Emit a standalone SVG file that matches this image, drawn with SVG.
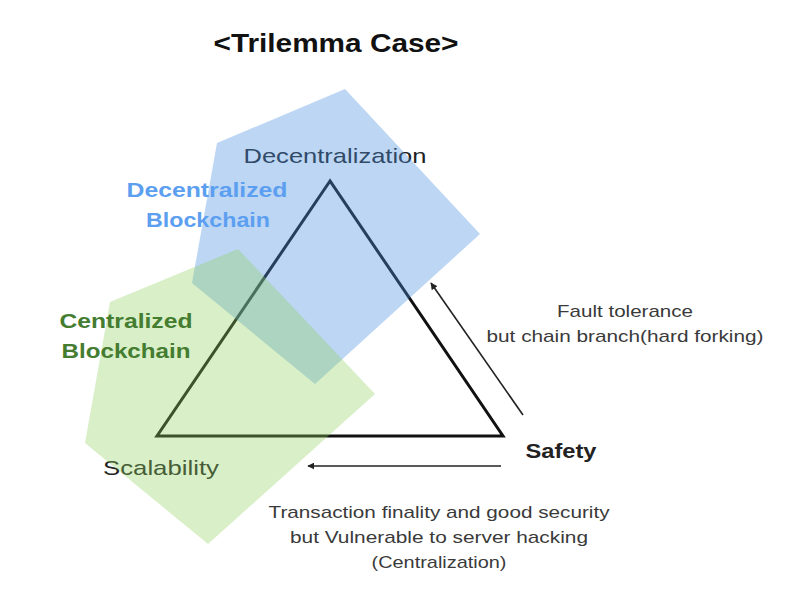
<svg xmlns="http://www.w3.org/2000/svg" width="804" height="602" viewBox="0 0 804 602">
<defs>
<style>
text{font-family:"Liberation Sans",Arial,Helvetica,sans-serif;}
.title{font-size:25px;font-weight:bold;fill:#111;}
.axis{font-size:21px;fill:#222;}
.region{font-size:21px;font-weight:bold;}
.note{font-size:17px;fill:#3a3a3a;}
.conn{stroke:#222;stroke-width:1.6;fill:none;marker-end:url(#ah);}
</style>
<marker id="ah" viewBox="0 0 10 10" refX="9" refY="5" markerWidth="7" markerHeight="7" orient="auto" markerUnits="userSpaceOnUse">
<path d="M0,0 L10,5 L0,10 z" fill="#222"/>
</marker>
</defs>
<rect width="804" height="602" fill="#fff"/>
<text class="title" x="336" y="52" text-anchor="middle" textLength="245" lengthAdjust="spacingAndGlyphs">&lt;Trilemma Case&gt;</text>

<g id="triangle">
<polygon points="330,181 157,436 503,436" fill="none" stroke="#111" stroke-width="3" stroke-linejoin="miter"/>
</g>
<g id="decentralization"><text class="axis" x="335" y="163" text-anchor="middle" textLength="183" lengthAdjust="spacingAndGlyphs">Decentralization</text></g>
<g id="scalability"><text class="axis" x="161" y="475" text-anchor="middle" textLength="116" lengthAdjust="spacingAndGlyphs">Scalability</text></g>
<g id="safety"><text class="axis" x="561" y="458" text-anchor="middle" font-weight="bold" textLength="71" lengthAdjust="spacingAndGlyphs">Safety</text></g>

<g id="decentralized-blockchain">
<polygon points="345,89 480,234 315,384 192,283 217,143" fill="#4a90e2" fill-opacity="0.37"/>
<text class="region" fill="#5c9ff0" x="207" y="197" text-anchor="middle" textLength="161" lengthAdjust="spacingAndGlyphs">Decentralized</text>
<text class="region" fill="#5c9ff0" x="208" y="227" text-anchor="middle" textLength="124" lengthAdjust="spacingAndGlyphs">Blockchain</text>
</g>
<g id="centralized-blockchain">
<polygon points="238,249 375,394 208,544 85,443 110,302" fill="#8cd05d" fill-opacity="0.34"/>
<text class="region" fill="#447c30" x="126" y="328" text-anchor="middle" textLength="133" lengthAdjust="spacingAndGlyphs">Centralized</text>
<text class="region" fill="#447c30" x="126" y="358" text-anchor="middle" textLength="129" lengthAdjust="spacingAndGlyphs">Blockchain</text>
</g>

<g id="connectors">
<line class="conn" x1="523" y1="415" x2="431" y2="283"/>
<line class="conn" x1="501" y1="466" x2="308" y2="466"/>
</g>
<g id="fault-note">
<text class="note" x="625" y="317" text-anchor="middle" textLength="136" lengthAdjust="spacingAndGlyphs">Fault tolerance</text>
<text class="note" x="625" y="342" text-anchor="middle" textLength="277" lengthAdjust="spacingAndGlyphs">but chain branch(hard forking)</text>
</g>
<g id="finality-note">
<text class="note" x="439" y="518" text-anchor="middle" textLength="341" lengthAdjust="spacingAndGlyphs">Transaction finality and good security</text>
<text class="note" x="439" y="543" text-anchor="middle" textLength="298" lengthAdjust="spacingAndGlyphs">but Vulnerable to server hacking</text>
<text class="note" x="439" y="568" text-anchor="middle" textLength="135" lengthAdjust="spacingAndGlyphs">(Centralization)</text>
</g>
</svg>
